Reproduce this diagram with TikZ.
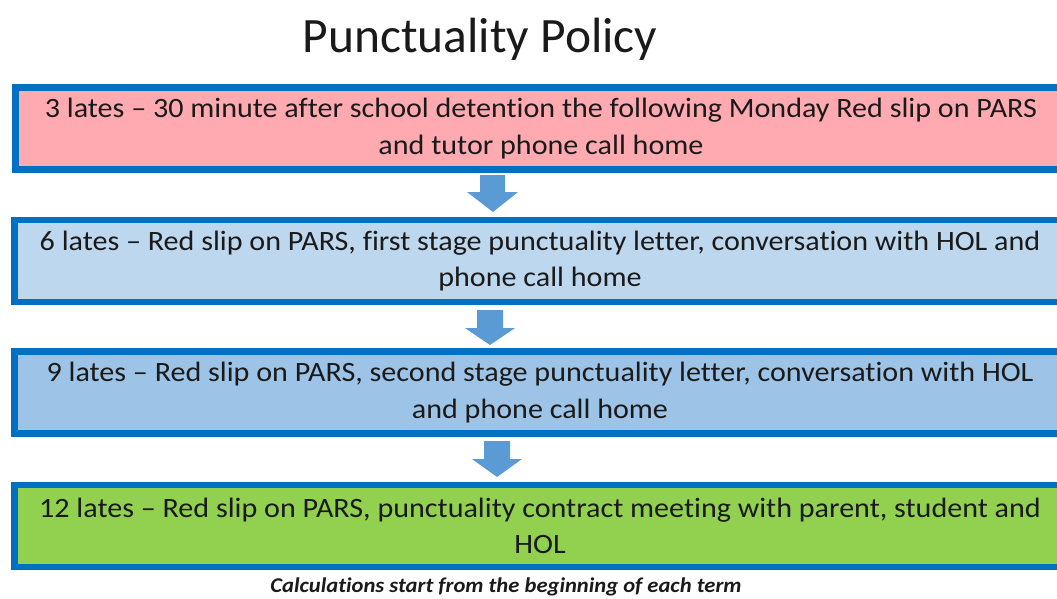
\documentclass[tikz,border=0pt]{standalone}
\usepackage{fontspec}
\setmainfont[Ligatures=NoCommon]{Carlito}
\newfontfamily\boxfont[FakeStretch=1.075,Ligatures=NoCommon]{Carlito}
\definecolor{bordblue}{HTML}{0070C0}
\definecolor{pinkfill}{HTML}{FFA9B1}
\definecolor{lbluefill}{HTML}{BDD7EE}
\definecolor{mbluefill}{HTML}{9DC3E6}
\definecolor{greenfill}{HTML}{92D050}
\definecolor{arrowblue}{HTML}{5B9BD5}
\definecolor{txt}{HTML}{1A1A1A}
\begin{document}
\begin{tikzpicture}[x=1pt,y=-1pt,
  stagebox/.style={draw=bordblue,line width=6.5pt,rectangle,minimum width=1051pt,minimum height=82pt,inner sep=0pt,align=center,text=txt,font=\boxfont\fontsize{28}{36.5}\selectfont,execute at begin node={\rule{0pt}{25pt}}},
  blockarrow/.style={fill=arrowblue}]
\useasboundingbox (0,0) rectangle (1057,598);
\clip (0,0) rectangle (1057,598);
\node[text=txt,font=\fontsize{49.5}{55}\selectfont,anchor=base] (title) at (480,52) {Punctuality Policy};
\node[stagebox,fill=pinkfill] (b1) at (541,128.5) {3 lates – 30 minute after school detention the following Monday Red slip on PARS\\and tutor phone call home};
\node[stagebox,fill=lbluefill] (b2) at (540,261) {6 lates – Red slip on PARS, first stage punctuality letter, conversation with HOL and\\phone call home};
\node[stagebox,fill=mbluefill] (b3) at (540,392.5) {9 lates – Red slip on PARS, second stage punctuality letter, conversation with HOL\\and phone call home};
\node[stagebox,fill=greenfill] (b4) at (540,526) {12 lates – Red slip on PARS, punctuality contract meeting with parent, student and\\HOL};
\fill[blockarrow] (480,175) -- (505,175) -- (505,192) -- (518,192) -- (493,212) -- (467,192) -- (480,192) -- cycle;
\fill[blockarrow] (477,310) -- (503,310) -- (503,328) -- (515,328) -- (490,345) -- (465,328) -- (477,328) -- cycle;
\fill[blockarrow] (484,441) -- (510,441) -- (510,459) -- (522,459) -- (497,477) -- (472,459) -- (484,459) -- cycle;
\node[text=txt,font=\boxfont\fontsize{21}{23}\selectfont\bfseries\itshape,anchor=base] (note) at (506,592) {Calculations start from the beginning of each term};
\end{tikzpicture}
\end{document}
